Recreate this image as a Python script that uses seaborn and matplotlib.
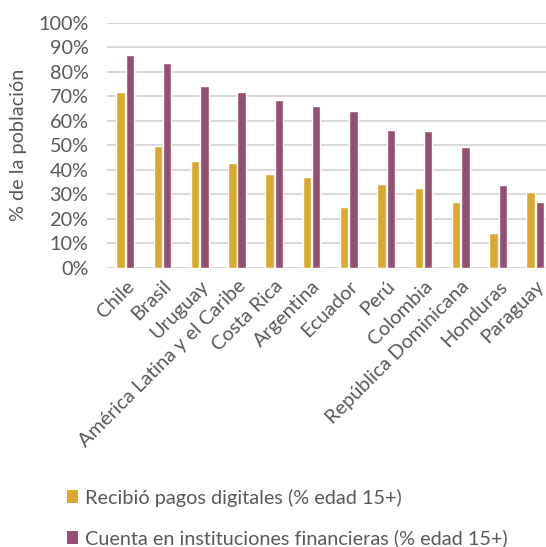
import matplotlib
matplotlib.use("Agg")
import matplotlib.pyplot as plt
import seaborn as sns
import pandas as pd
from matplotlib.patches import Patch
from matplotlib.ticker import FuncFormatter

categories = ["Chile", "Brasil", "Uruguay", "América Latina y el Caribe", "Costa Rica",
              "Argentina", "Ecuador", "Perú", "Colombia", "República Dominicana",
              "Honduras", "Paraguay"]
pagos_digitales = [71.6, 49.7, 43.6, 42.7, 38.1, 36.9, 24.8, 34.2, 32.7, 26.7, 14.3, 30.8]
cuenta_financiera = [86.9, 83.6, 74.0, 71.6, 68.4, 66.1, 64.1, 56.1, 55.7, 49.3, 33.6, 26.8]
series_names = ["Recibió pagos digitales (% edad 15+)",
                "Cuenta en instituciones financieras (% edad 15+)"]
yticks = [0, 10, 20, 30, 40, 50, 60, 70, 80, 90, 100]

colors = ["#DBA92E", "#964F73"]
text_color = "#595959"
fs = 14.3

df = pd.DataFrame({
    "pais": categories * 2,
    "valor": pagos_digitales + cuenta_financiera,
    "serie": [series_names[0]] * len(categories) + [series_names[1]] * len(categories),
})

sns.set_style("white")
plt.rcParams["font.family"] = ["Lato", "DejaVu Sans"]

W, H = 546, 547
fig = plt.figure(figsize=(W / 100, H / 100), dpi=100)
left, right = 106.5, 554.0
top, bottom = 22.7, 267.7
ax = fig.add_axes([left / W, 1 - bottom / H, (right - left) / W, (bottom - top) / H])

sns.barplot(data=df, x="pais", y="valor", hue="serie", order=categories,
            hue_order=series_names, palette=colors, width=0.5, gap=0.1,
            saturation=1, ax=ax, legend=False)

ax.set_ylim(0, 100)
ax.set_xlim(-0.5, len(categories) - 0.5)
ax.set_yticks(yticks)
ax.yaxis.set_major_formatter(FuncFormatter(lambda v, p: f"{int(v)}%"))
ax.yaxis.grid(True, color="#D9D9D9", linewidth=1.4)
ax.set_axisbelow(True)
for s in ax.spines.values():
    s.set_visible(False)
ax.tick_params(axis="both", length=0, labelsize=fs, colors=text_color)
ax.tick_params(axis="y", pad=13)
ax.set_xlabel("")
ax.set_ylabel("% de la población", fontsize=fs, color=text_color)
ax.yaxis.set_label_coords(-(left - 19) / (right - left), 0.5)
ax.yaxis.label.set_va("center")
ax.set_xticks(range(len(categories)))
ax.set_xticklabels(categories, rotation=45, ha="right", rotation_mode="anchor",
                   fontsize=fs, color=text_color)
ax.tick_params(axis="x", pad=7)

handles = [Patch(facecolor=c, edgecolor="none") for c in colors]
fig.legend(handles, series_names, loc="center left", bbox_to_anchor=(57 / W, 1 - 518 / H),
           frameon=False, fontsize=fs, labelcolor=text_color, handlelength=0.58,
           handleheight=0.58, handletextpad=0.35, labelspacing=1.15, borderpad=0)

fig.savefig("out.png", dpi=100)
